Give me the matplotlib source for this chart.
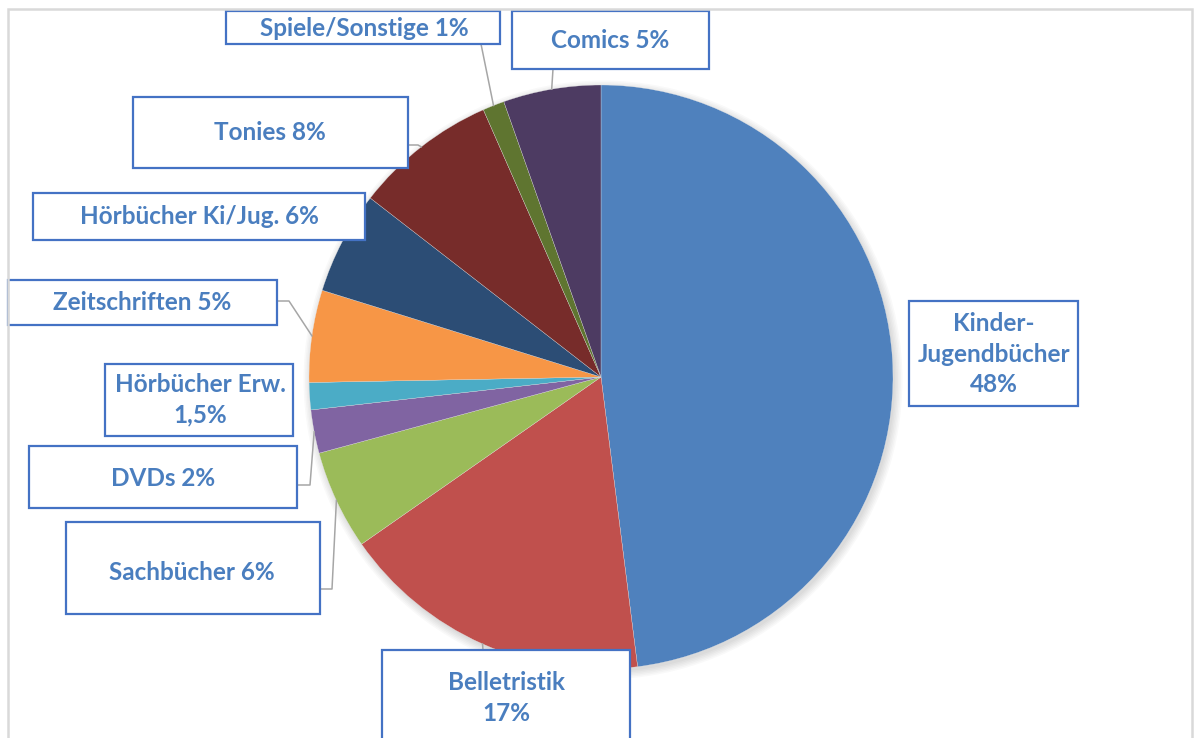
import numpy as np
import matplotlib
matplotlib.use("Agg")
import matplotlib.pyplot as plt
from matplotlib.patches import Rectangle, Circle

# ---- data ----
names = ["Kinder-\nJugendbücher", "Belletristik", "Sachbücher", "DVDs", "Hörbücher Erw.",
         "Zeitschriften", "Hörbücher Ki/Jug.", "Tonies", "Spiele/Sonstige", "Comics"]
values = [48.0, 17.3, 5.5, 2.4, 1.5, 5.1, 5.7, 7.9, 1.2, 5.4]
pct_labels = ["48%", "17%", "6%", "2%", "1,5%", "5%", "6%", "8%", "1%", "5%"]
colors = ["#4F81BD", "#C0504D", "#9BBB59", "#8064A2", "#4BACC6",
          "#F79646", "#2C4D75", "#772C2A", "#5F7530", "#4D3B62"]

# ---- layout (pixel coordinates, y from top) ----
W, H = 1198, 738
separators = ["\n", "\n", " ", " ", "\n", " ", " ", " ", " ", " "]
boxes = [(909, 301, 1078, 406), (382, 650, 630, 748), (66, 522, 320, 614),
         (29, 446, 297, 508), (105, 364, 293, 436), (8, 280, 277, 325),
         (33, 193, 365, 240), (133, 97, 408, 168), (226, 11, 500, 44),
         (512, 11, 709, 69)]
text_centers = [(994, 354), (506, 698), (192, 572), (163, 478), (200, 400),
                (142, 303), (199, 217), (270, 133), (364, 28), (610, 40)]
# leader line anchor points on the boxes (None = no leader)
leader_pts = [None, [(483, 650)], [(320, 589), (332, 589)], [(297, 485), (310, 485)],
              None, [(277, 301), (289, 301)], None, [(408, 145), (418, 145)],
              [(481, 44)], [(553, 69)]]

def Y(y):
    return H - y

fig = plt.figure(figsize=(W / 100, H / 100), dpi=100)
ax = fig.add_axes([0, 0, 1, 1])

cx, cy, R = 601, Y(377), 292

# soft shadow
for k in range(6):
    ax.add_patch(Circle((cx + 2, cy - 3), R + 1.5 * k, color="black",
                        alpha=0.025, lw=0, zorder=0.5))

wedges, _ = ax.pie(values, colors=colors, startangle=90, counterclock=False,
                   center=(cx, cy), radius=R,
                   wedgeprops=dict(linewidth=0.2, edgecolor="#E8E8E8"), frame=True)
ax.set_xlim(0, W)
ax.set_ylim(0, H)
ax.set_aspect("equal")
ax.axis("off")
for w in wedges:
    w.set_zorder(1)

text_color = "#4A7EBF"
box_color = "#4472C4"
for i, w in enumerate(wedges):
    if leader_pts[i] is not None:
        mid = np.deg2rad((w.theta1 + w.theta2) / 2)
        px = w.center[0] + w.r * np.cos(mid)
        py = w.center[1] + w.r * np.sin(mid)
        xs = [p[0] for p in leader_pts[i]] + [px]
        ys = [Y(p[1]) for p in leader_pts[i]] + [py]
        ax.plot(xs, ys, color="#A6A6A6", lw=1.1, zorder=2)
    x0, y0, x1, y1 = boxes[i]
    ax.add_patch(Rectangle((x0, Y(y1)), x1 - x0, y1 - y0, facecolor="white",
                           edgecolor=box_color, lw=1.6, zorder=3))
    tx, ty = text_centers[i]
    ax.text(tx, Y(ty), names[i] + separators[i] + pct_labels[i], ha="center", va="center",
            fontsize=17.5, fontweight="bold", color=text_color, family=["Lato", "DejaVu Sans"],
            linespacing=1.38, zorder=4)

# chart area frame
ax.plot([8, 8, 1192, 1192], [0, Y(9), Y(9), 0], color="#D9D9D9", lw=1.8, zorder=5,
        solid_joinstyle="miter")

fig.savefig("out.png", dpi=100)
